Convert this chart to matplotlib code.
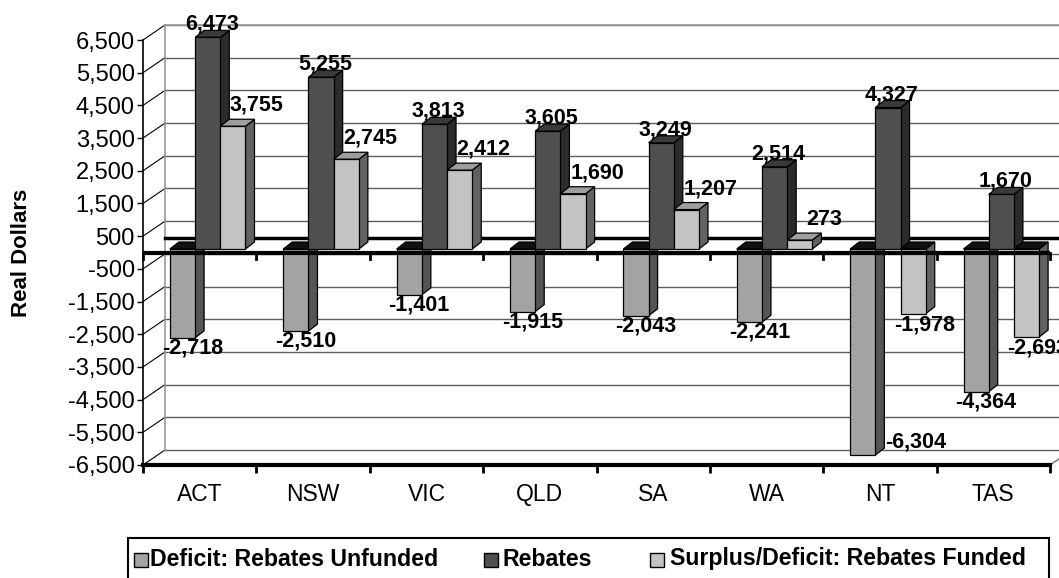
import matplotlib
matplotlib.use("Agg")
import matplotlib.pyplot as plt
from matplotlib.patches import Polygon, Rectangle
import numpy as np

# Datos por estado
states = ['ACT', 'NSW', 'VIC', 'QLD', 'SA', 'WA', 'NT', 'TAS']
unfunded = [-2718, -2510, -1401, -1915, -2043, -2241, -6304, -4364]
rebates = [6473, 5255, 3813, 3605, 3249, 2514, 4327, 1670]
funded = [3755, 2745, 2412, 1690, 1207, 273, -1978, -2693]
series_names = ['Deficit: Rebates Unfunded', 'Rebates', 'Surplus/Deficit: Rebates Funded']
y_ticks = list(range(-6500, 6501, 1000))

plt.rcParams['font.family'] = ['Liberation Sans', 'DejaVu Sans']

W, H = 1059, 578
fig = plt.figure(figsize=(W / 100, H / 100), dpi=100)
ax = fig.add_axes([143 / W, 1 - 465 / H, 907 / W, 425 / H])
n = len(states)
ax.set_xlim(0, n)
ax.set_ylim(-6500, 6500)

# conversión de pixeles a unidades de datos
px = n / 907
py = 13000 / 425

# desplazamientos de la perspectiva
wall_dx, wall_dy = 22 * px, 15 * py
bar_dx, bar_dy = 8 * px, 3.5 * py
dep_dx, dep_dy = 9 * px, 7 * py
bw = 1 / 4.5

# pared del fondo y pared lateral
for v in y_ticks:
    ax.plot([wall_dx, n + wall_dx], [v + wall_dy] * 2, color='#5e5e5e', lw=1.0, clip_on=False, zorder=1)
    ax.plot([0, wall_dx], [v, v + wall_dy], color='black', lw=0.8, clip_on=False, zorder=1)
ax.plot([wall_dx, wall_dx], [-6500 + wall_dy, 6500 + wall_dy], color='#9a9a9a', lw=1.2, clip_on=False, zorder=1)
ax.plot([wall_dx, n + wall_dx], [6500 + wall_dy] * 2, color='#9a9a9a', lw=1.2, clip_on=False, zorder=1)
ax.plot([n, n + wall_dx], [-6500, -6500 + wall_dy], color='#6e6e6e', lw=1.0, clip_on=False, zorder=1)
# borde trasero del plano cero
ax.plot([wall_dx, n + wall_dx], [wall_dy, wall_dy], color='black', lw=2.5, clip_on=False, zorder=2)

front_colors = ['#a3a3a3', '#4f4f4f', '#c3c3c3']
side_colors = ['#555555', '#2b2b2b', '#626262']
top_colors = ['#7a7a7a', '#3a3a3a', '#9e9e9e']
neg_top = '#111111'
lab_pos = [(10, 13), (4, 13), (24, 21)]   # (dx, dy) en pixeles
lab_neg = [(10, 10), (10, 10), (11, 11)]

for k, vals in enumerate([unfunded, rebates, funded]):
    lefts = np.arange(n) + (0.75 + k) * bw + bar_dx
    bars = ax.bar(lefts, vals, width=bw, bottom=bar_dy, align='edge',
                  color=front_colors[k], edgecolor='black', linewidth=0.9)
    for c, (rect, v) in enumerate(zip(bars, vals)):
        z = 10 + 10 * c + 3 * k
        rect.set_zorder(z + 2)
        rect.set_clip_on(False)
        x0 = rect.get_x()
        x1 = x0 + bw
        y0 = bar_dy
        y1 = bar_dy + v
        side = Polygon([(x1, y0), (x1 + dep_dx, y0 + dep_dy), (x1 + dep_dx, y1 + dep_dy), (x1, y1)],
                       closed=True, facecolor=side_colors[k], edgecolor='black', lw=0.9,
                       zorder=z, clip_on=False)
        ax.add_patch(side)
        yt = max(y0, y1)
        top = Polygon([(x0, yt), (x1, yt), (x1 + dep_dx, yt + dep_dy), (x0 + dep_dx, yt + dep_dy)],
                      closed=True, facecolor=top_colors[k] if v >= 0 else neg_top,
                      edgecolor='black', lw=0.9, zorder=z + 1, clip_on=False)
        ax.add_patch(top)

        txt = f'{v:,}'
        cx = x0 + bw / 2
        if v >= 0:
            dx, dy = lab_pos[k]
            ax.text(cx + dx * px, y1 + dy * py, txt, ha='center', va='center',
                    fontsize=15.5, fontweight='bold', zorder=200, clip_on=False)
        elif y1 - 18 * py < -6500:
            ax.text(x1 + dep_dx + 1 * px, y1 + 13 * py, txt, ha='left', va='center',
                    fontsize=15.5, fontweight='bold', zorder=200, clip_on=False)
        else:
            dx, dy = lab_neg[k]
            ax.text(cx + dx * px, y1 - dy * py, txt, ha='center', va='center',
                    fontsize=15.5, fontweight='bold', zorder=200, clip_on=False)

# línea del cero al frente, con marcas
ax.axhline(0, color='black', lw=3, zorder=150)
for c in range(n + 1):
    ax.plot([c, c], [0, -6 * py], color='black', lw=2, zorder=150, clip_on=False)

# ejes
for s in ['top', 'right']:
    ax.spines[s].set_visible(False)
ax.spines['left'].set_linewidth(1.2)
ax.spines['bottom'].set_linewidth(3)
ax.spines['left'].set_zorder(160)
ax.spines['bottom'].set_zorder(160)
ax.set_yticks(y_ticks)
ax.set_yticklabels([f'{v:,}' for v in y_ticks], fontsize=17)
ax.tick_params(axis='y', length=4, width=1, pad=2)
ax.set_xticks(np.arange(n) + 0.5)
ax.set_xticklabels(states, fontsize=16.5)
ax.set_xticks(np.arange(n + 1), minor=True)
ax.tick_params(axis='x', which='major', length=0, pad=13)
ax.tick_params(axis='x', which='minor', length=6, width=2)
ax.set_facecolor('none')

fig.text(22 / W, 1 - 253 / H, 'Real Dollars', rotation=90, ha='center', va='center',
         fontsize=16, fontweight='bold')

# leyenda
fig.patches.append(Rectangle((128 / W, 1 - 590 / H), (1049 - 128) / W, (590 - 538) / H,
                             transform=fig.transFigure, fill=False, edgecolor='black', lw=1.5))
leg_x = [(134, 150), (484, 502), (650, 670)]
for (mx, tx), name, col in zip(leg_x, series_names, front_colors):
    fig.patches.append(Rectangle((mx / W, 1 - 567 / H), 14 / W, 14 / H, transform=fig.transFigure,
                                 facecolor=col, edgecolor='black', lw=1))
    fig.text(tx / W, 1 - 559 / H, name, ha='left', va='center', fontsize=16.7, fontweight='bold')

fig.savefig('out.png', dpi=100)
